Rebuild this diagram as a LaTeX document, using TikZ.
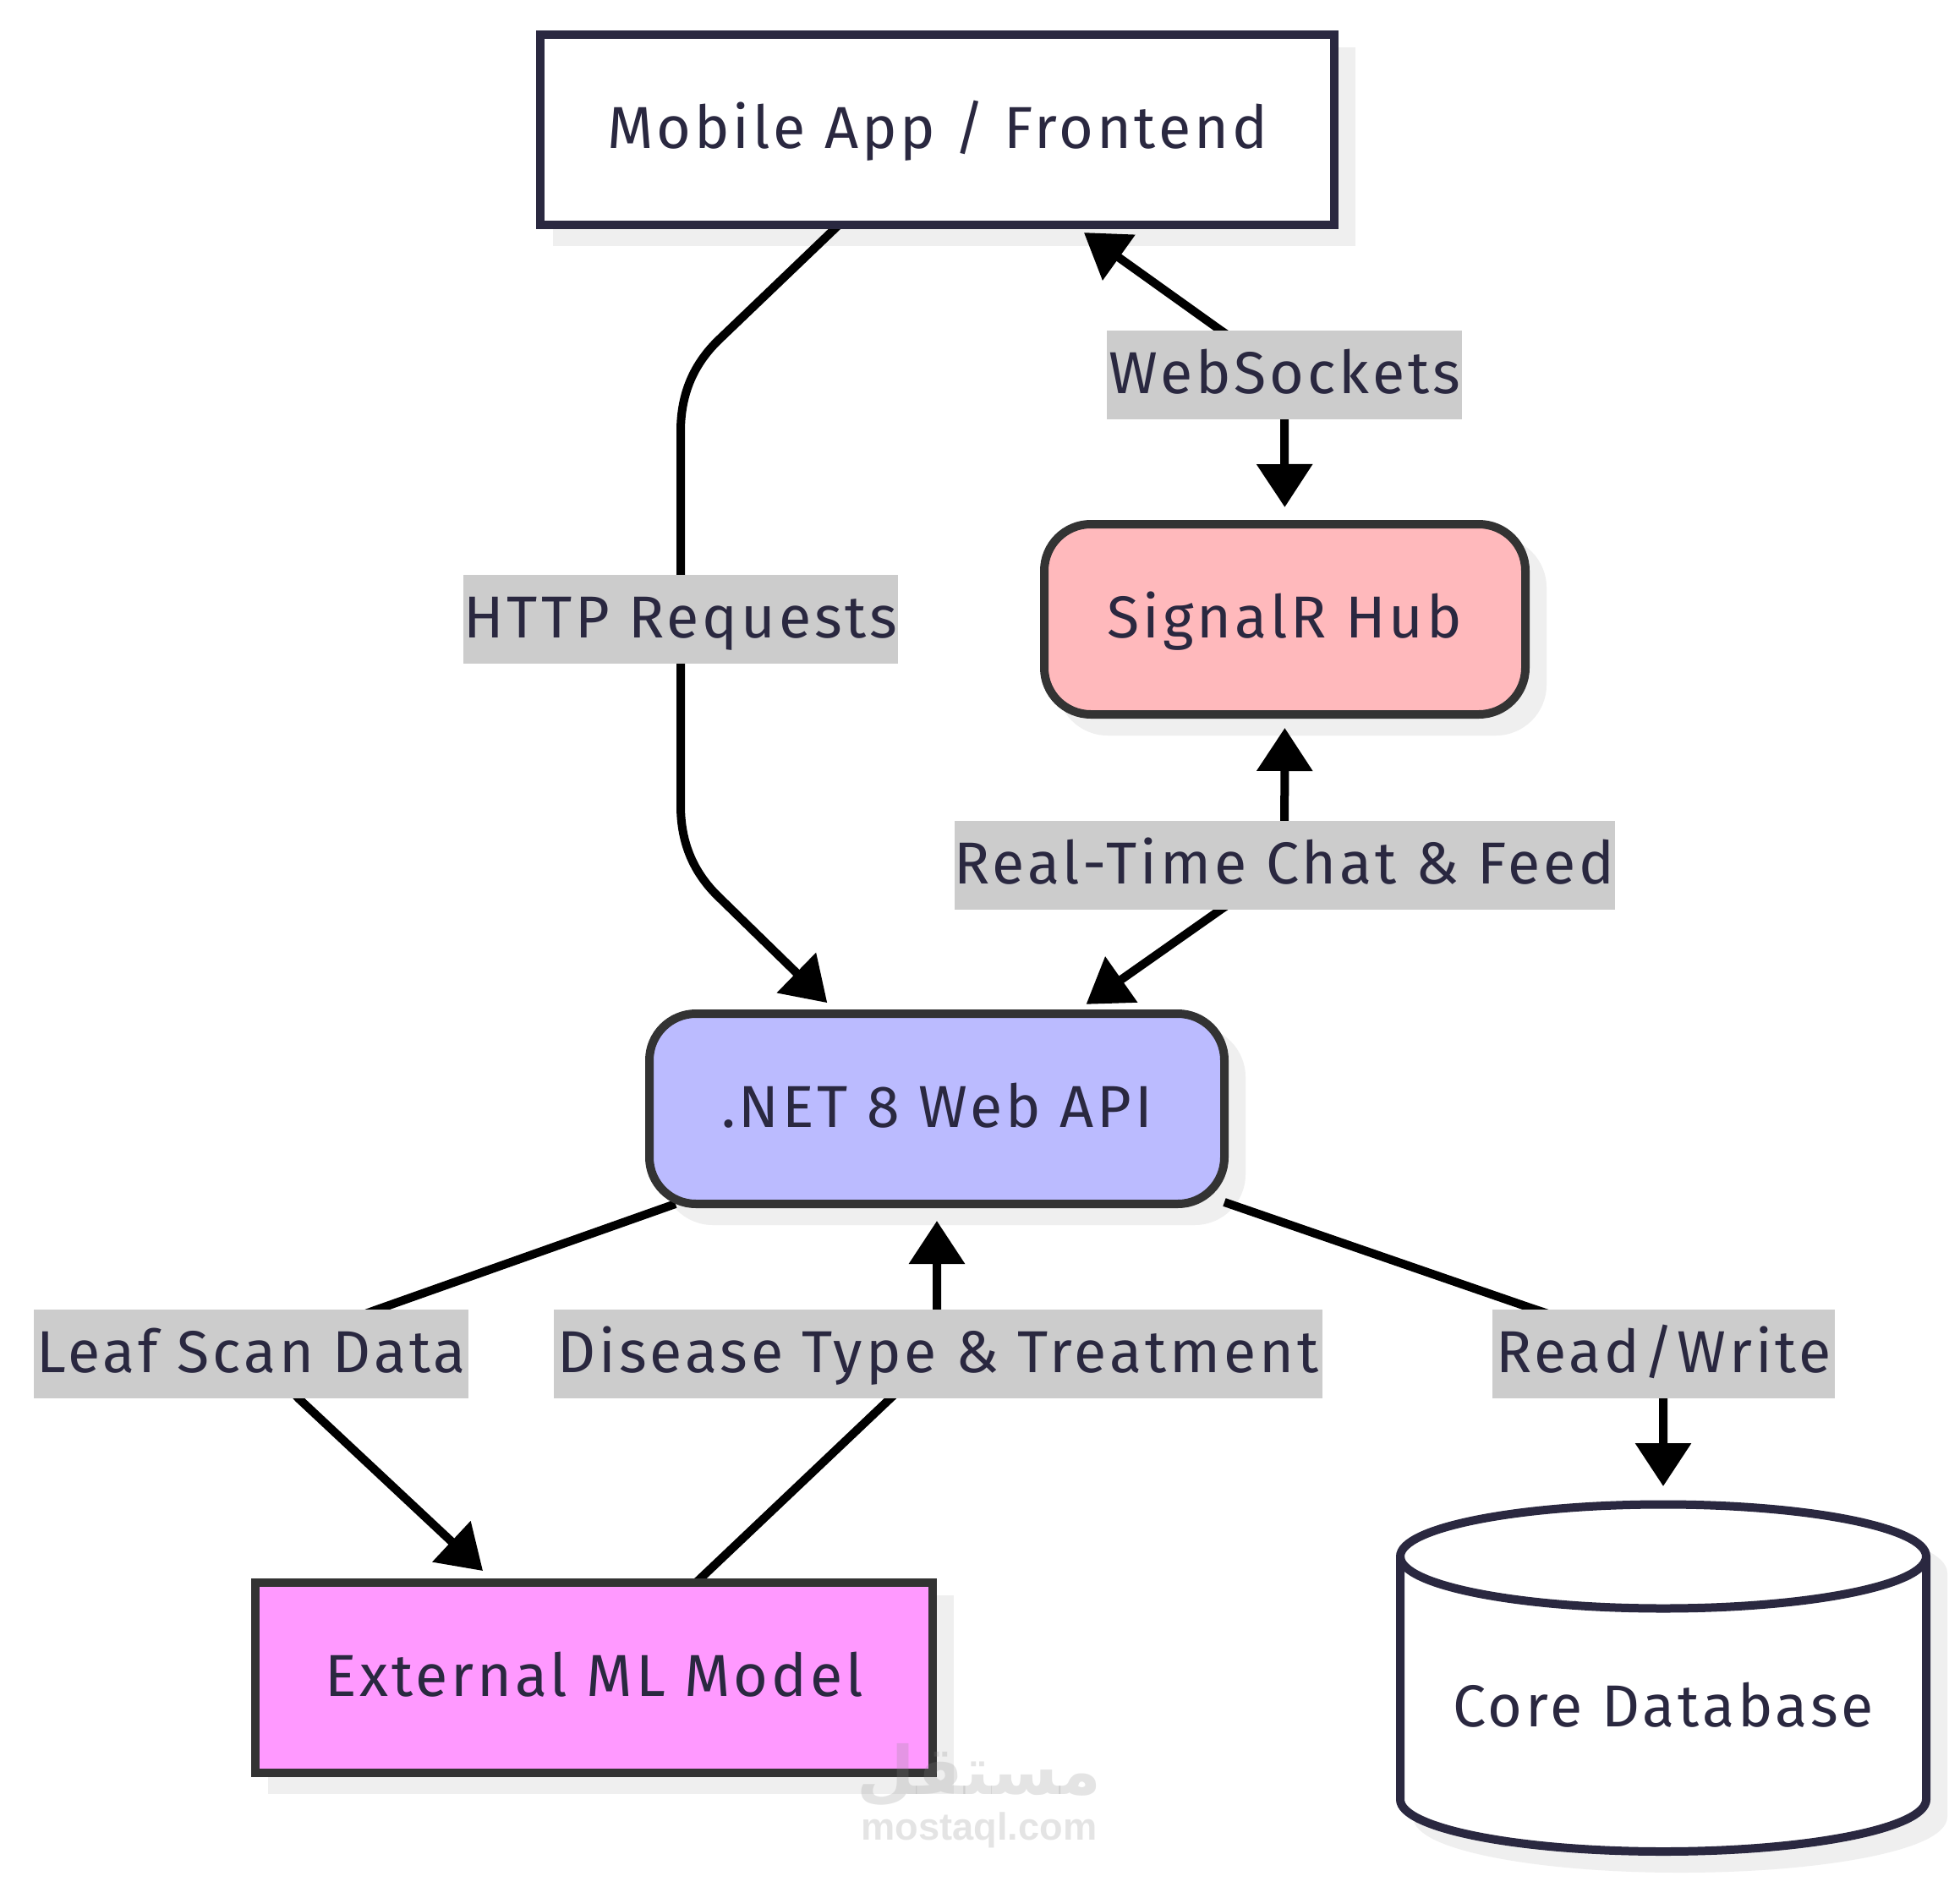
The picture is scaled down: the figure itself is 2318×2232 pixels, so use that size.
\documentclass[tikz,border=0pt]{standalone}
\usepackage{fontspec}
\usetikzlibrary{arrows.meta}
\setmainfont{Fira Sans}[LetterSpace=5.6]
\newfontfamily\wmlatin{Liberation Sans}
\newfontfamily\arabicfont[Script=Arabic]{DejaVu Sans}
\TeXXeTstate=1
\definecolor{ink}{HTML}{2A2840}
\definecolor{darkline}{HTML}{333333}
\definecolor{shadowc}{HTML}{EFEFEF}
\definecolor{labelbg}{HTML}{CCCCCC}
\definecolor{sigfill}{HTML}{FFB9BC}
\definecolor{apifill}{HTML}{BBBBFF}
\definecolor{mlfill}{HTML}{FF99FF}
\definecolor{wmgray}{HTML}{888888}
\pgfdeclarelayer{casts}
\pgfdeclarelayer{edges}
\pgfsetlayers{casts,edges,main}
\newcommand{\dbbody}{(1656,1841) -- (1656,2128.5) .. controls (1656,2162.5) and (1795,2190) .. (1967,2190) .. controls (2139,2190) and (2278,2162.5) .. (2278,2128.5) -- (2278,1841) .. controls (2278,1807) and (2139,1779.5) .. (1967,1779.5) .. controls (1795,1779.5) and (1656,1807) .. (1656,1841) -- cycle}
\tikzset{
  box/.style={rectangle,draw,line width=5pt,inner sep=0pt,outer sep=0pt,text=ink,
    font=\fontsize{35}{35}\selectfont,text height=22pt,text depth=0pt,align=center,minimum height=112.5pt},
  plainbox/.style={box,draw=ink,fill=white},
  softbox/.style={box,draw=darkline,rounded corners=27.5pt},
  hardbox/.style={box,draw=darkline},
  textonly/.style={inner sep=0pt,outer sep=0pt,text=ink,
    font=\fontsize{35}{35}\selectfont,text height=22pt,text depth=0pt},
  edgelabel/.style={rectangle,fill=labelbg,inner sep=0pt,outer sep=0pt,text=ink,
    minimum height=52.5pt,font=\fontsize{35}{35}\selectfont,text height=22pt,text depth=0pt},
  link/.style={draw=black,line width=5pt,line join=round},
  cast/.style={fill=shadowc},
  wm/.style={inner sep=0pt,outer sep=0pt,text=wmgray,text opacity=0.22},
  headed/.style={-{Triangle[length=25.5pt,width=32pt]}},
  bothheaded/.style={{Triangle[length=25.5pt,width=32pt]}-{Triangle[length=25.5pt,width=32pt]}}
}
\begin{document}
\begin{tikzpicture}[x=0.5pt,y=-0.5pt]
\useasboundingbox (0,0) rectangle (2318,2232);
\begin{pgfonlayer}{casts}
\fill[white] (0,0) rectangle (2318,2232);
\fill[cast] (654,56) rectangle (1603,291);
\fill[cast,rounded corners=30pt] (1250,635) rectangle (1829,870);
\fill[cast,rounded corners=30pt] (783,1214) rectangle (1473,1449);
\fill[cast] (317,1887) rectangle (1128,2122);
\begin{scope}[shift={(20,20)}]
\fill[cast,draw=shadowc,line width=5pt] \dbbody;
\end{scope}
\end{pgfonlayer}
% nodes
\node[plainbox,minimum width=469.5pt] (mobile) at (1108.5,153.5) {Mobile App / Frontend};
\node[softbox,fill=sigfill,minimum width=284.5pt] (signalr) at (1519.5,732.5) {SignalR Hub};
\node[softbox,fill=apifill,minimum width=340pt] (api) at (1108,1311.5) {.NET 8 Web API};
\node[hardbox,fill=mlfill,minimum width=400.5pt] (ml) at (702.5,1984.5) {External ML Model};
% database
\draw[fill=white,draw=ink,line width=5pt] \dbbody;
\draw[draw=ink,line width=5pt] (1656,1841) .. controls (1656,1875) and (1795,1902.5) .. (1967,1902.5) .. controls (2139,1902.5) and (2278,1875) .. (2278,1841);
\coordinate (dbtop) at (1967,1779.5);
\node[textonly] (db) at (1967,2020) {Core Database};
% edge labels
\node[edgelabel,minimum width=210pt] (lws) at (1519,443) {WebSockets};
\node[edgelabel,minimum width=255pt] (lhttp) at (805,732) {HTTP Requests};
\node[edgelabel,minimum width=385pt] (lrt) at (1519,1023) {Real-Time Chat \& Feed};
\node[edgelabel,minimum width=257pt] (lleaf) at (297,1601.5) {Leaf Scan Data};
\node[edgelabel,minimum width=454.5pt] (ldis) at (1109.5,1601.5) {Disease Type \& Treatment};
\node[edgelabel,minimum width=202.5pt] (lrw) at (1967.5,1601.5) {Read/Write};
% edges
\begin{pgfonlayer}{edges}
\draw[link,bothheaded,shorten <=7.8pt,shorten >=10pt]
  (mobile.-35.4) -- (1444,391) .. controls (1495,425) and (1519,450) .. (1519,495) -- (signalr.north);
\draw[link,bothheaded,shorten <=8pt,shorten >=9.7pt]
  (signalr.south) -- (1519,1023) .. controls (1519,1035) and (1495,1041) .. (1445,1075) -- (api.35);
\draw[link,headed,shorten >=9.2pt]
  (mobile.-136.5) -- (850,402) .. controls (821,430) and (805,465) .. (805,510) -- (805,953) .. controls (805,998) and (821,1033) .. (850,1061) -- (api.136.6);
\draw[link,headed,shorten >=10.2pt]
  (api.-160.1) -- (443,1550) .. controls (370,1576) and (320,1620) .. (353,1654) -- (ml.136.5);
\draw[link,headed,shorten >=10pt]
  (ml.43.8) -- (1053,1654) .. controls (1088,1622) and (1108,1590) .. (1108,1549) -- (api.south);
\draw[link,headed,shorten >=10.75pt]
  (api.-18.8) -- (1813,1548) .. controls (1900,1577) and (1967,1600) .. (1967,1654) -- (dbtop);
\end{pgfonlayer}
% watermark
\node[wm,font=\arabicfont\bfseries\fontsize{39.5}{40}\selectfont] (wmar) at (1158,2100) {\beginR مستقل\endR};
\node[wm,font=\wmlatin\bfseries\fontsize{22.6}{24}\selectfont] (wmen) at (1158,2165) {mostaql.com};
\end{tikzpicture}
\end{document}
